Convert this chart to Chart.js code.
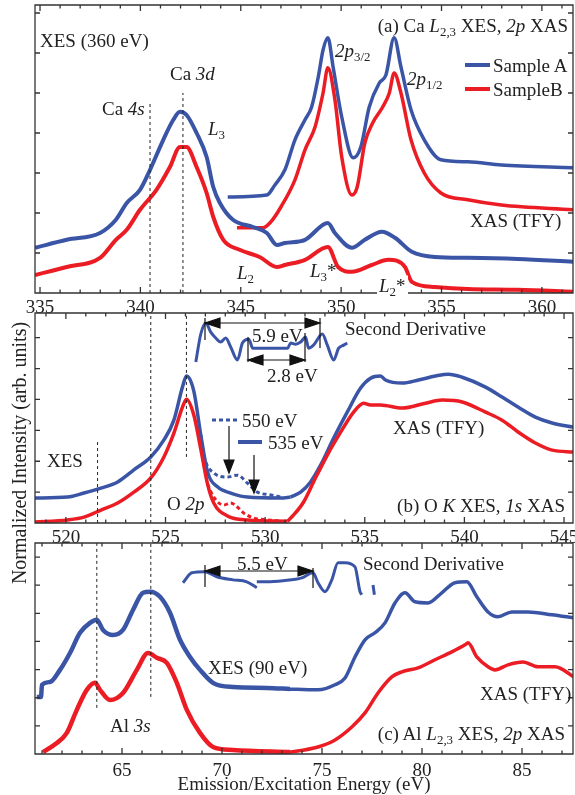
<!DOCTYPE html>
<html>
<head>
<meta charset="utf-8">
<script src="https://cdn.jsdelivr.net/npm/chart.js@4.4.1/dist/chart.umd.min.js"></script>
<style>
  body { margin: 0; width: 575px; height: 795px; position: relative; overflow: hidden; background: #fff;
         font-family: "Liberation Serif", "Times New Roman", serif; color: #222; }
  .panel { position: absolute; left: 0; width: 575px; }
  .t { position: absolute; font-size: 19px; line-height: 1; white-space: nowrap; transform: translateY(-50%); }
  .t sub { font-size: 0.68em; vertical-align: -0.35em; line-height: 0; }
  svg { position: absolute; left: 0; top: 0; }
</style>
</head>
<body>
<div class="panel" style="top:0;height:318px"><canvas id="chartA"></canvas></div>
<div class="panel" style="top:308px;height:240px"><canvas id="chartB"></canvas></div>
<div class="panel" style="top:538px;height:257px"><canvas id="chartC"></canvas></div>

<svg width="575" height="795">
  <g stroke="#3b55a6" stroke-width="4">
    <line x1="465" y1="65" x2="490" y2="65"/>
    <line x1="238" y1="442" x2="262" y2="442"/>
    <line x1="212" y1="420" x2="237" y2="420" stroke-width="3" stroke-dasharray="4 3"/>
  </g>
  <line x1="465" y1="89" x2="490" y2="89" stroke="#ec1c24" stroke-width="4"/>
  <g stroke="#111" stroke-width="1.2" fill="#111">
    <!-- (b) arrows -->
    <line x1="229" y1="426" x2="229" y2="462"/><polygon points="224,460 234,460 229,473"/>
    <line x1="254" y1="455" x2="254" y2="482"/><polygon points="249,480 259,480 254,493"/>
    <line x1="205" y1="323" x2="320" y2="323"/>
    <polygon points="205,323 220,318 220,328"/><polygon points="320,323 305,318 305,328"/>
    <line x1="205" y1="318" x2="205" y2="340"/><line x1="320" y1="318" x2="320" y2="348"/>
    <line x1="248" y1="360" x2="305" y2="360"/>
    <polygon points="248,360 263,355 263,365"/><polygon points="305,360 290,355 290,365"/>
    <line x1="248" y1="337" x2="248" y2="362"/><line x1="305" y1="333" x2="305" y2="362"/>
    <!-- (c) arrow -->
    <line x1="205" y1="571" x2="313" y2="571"/>
    <polygon points="205,571 220,566 220,576"/><polygon points="313,571 298,566 298,576"/>
    <line x1="205" y1="565" x2="205" y2="587"/><line x1="313" y1="568" x2="313" y2="588"/>
  </g>
</svg>

<!-- panel (a) texts -->
<div class="t" style="left:40px;top:40px">XES (360 eV)</div>
<div class="t" style="left:170px;top:73px">Ca <i>3d</i></div>
<div class="t" style="left:102px;top:108px">Ca <i>4s</i></div>
<div class="t" style="left:208px;top:128px"><i>L</i><sub>3</sub></div>
<div class="t" style="left:237px;top:272px"><i>L</i><sub>2</sub></div>
<div class="t" style="right:7px;top:25px">(a) Ca <i>L</i><sub>2,3</sub> XES, <i>2p</i> XAS</div>
<div class="t" style="left:335px;top:50px"><i>2p</i><sub>3/2</sub></div>
<div class="t" style="left:407px;top:78px"><i>2p</i><sub>1/2</sub></div>
<div class="t" style="left:493px;top:65px">Sample A</div>
<div class="t" style="left:493px;top:89px">SampleB</div>
<div class="t" style="left:470px;top:220px">XAS (TFY)</div>
<div class="t" style="left:310px;top:270px"><i>L</i><sub>3</sub>*</div>
<div class="t" style="left:377px;top:285px;background:#fff;padding:0 2px"><i>L</i><sub>2</sub>*</div>

<!-- panel (b) texts -->
<div class="t" style="left:345px;top:328px">Second Derivative</div>
<div class="t" style="left:252px;top:335px">5.9 eV</div>
<div class="t" style="left:267px;top:375px">2.8 eV</div>
<div class="t" style="left:242px;top:420px">550 eV</div>
<div class="t" style="left:268px;top:442px">535 eV</div>
<div class="t" style="left:47px;top:460px">XES</div>
<div class="t" style="left:167px;top:503px">O <i>2p</i></div>
<div class="t" style="left:393px;top:427px">XAS (TFY)</div>
<div class="t" style="right:10px;top:505px">(b) O <i>K</i> XES, <i>1s</i> XAS</div>

<!-- panel (c) texts -->
<div class="t" style="left:237px;top:563px">5.5 eV</div>
<div class="t" style="left:363px;top:563px">Second Derivative</div>
<div class="t" style="left:208px;top:667px">XES (90 eV)</div>
<div class="t" style="left:110px;top:725px">Al <i>3s</i></div>
<div class="t" style="left:480px;top:693px">XAS (TFY)</div>
<div class="t" style="right:10px;top:733px">(c) Al <i>L</i><sub>2,3</sub> XES, <i>2p</i> XAS</div>

<div class="t" style="left:19px;top:453px;font-size:20px;transform:translate(-50%,-50%) rotate(-90deg)">Normalized Intensity (arb. units)</div>

<script>
const BLUE = "#3b55a6";
const RED = "#ec1c24";
const FONT = "'Liberation Serif', 'Times New Roman', serif";

// tick labels
const caTicks = [335, 340, 345, 350, 355, 360];
const oTicks = [520, 525, 530, 535, 540, 545];
const alTicks = [65, 70, 75, 80, 85];

// (a) Ca L2,3 XES / 2p XAS  [energy eV, intensity arb.]
const caXesA = [[334.75,1.13],[336.33,1.33],[337.99,1.5],[338.78,1.83],[339.32,2.25],[339.98,2.58],[340.48,3.08],
  [341.14,3.83],[341.64,4.33],[341.97,4.53],[342.3,4.45],[342.8,4.0],[343.3,3.4],[343.63,2.65],[343.96,2.25],
  [344.61,1.83],[345.61,1.65],[346.3,1.5],[346.8,1.2],[347.2,1.25],[348.2,1.33],[349.34,1.75],[349.69,1.5],
  [350.54,1.13],[351.18,1.33],[352.03,1.53],[352.68,1.38],[353.52,1.03],[354.67,0.9],[356.31,0.88],[358.8,0.85],[361.6,0.78]];
const caXesB = [[334.75,0.45],[336.33,0.65],[337.99,0.88],[338.78,1.33],[339.32,1.58],[339.98,2.08],[340.8,2.58],
  [341.47,3.15],[341.97,3.65],[342.3,3.65],[342.8,3.15],[343.3,2.5],[343.63,1.9],[344.13,1.33],[344.94,1.08],
  [345.94,0.9],[346.8,0.65],[347.2,0.7],[348.2,0.83],[349.34,1.15],[349.85,0.65],[350.54,0.53],[351.52,0.7],
  [352.35,0.83],[353.18,0.65],[353.52,0.28],[354.67,0.15],[356.31,0.1],[358.8,0.08],[361.6,0.03]];
const caXasA = [[344.35,2.4],[346.3,2.45],[346.7,2.7],[347.2,3.08],[347.7,3.83],[348.2,4.33],[348.53,4.65],
  [348.86,5.4],[349.1,6.08],[349.34,6.38],[349.6,5.65],[350.03,4.4],[350.6,3.38],[350.98,3.65],[351.4,4.65],
  [351.9,5.25],[352.23,5.45],[352.64,6.38],[352.98,5.65],[353.48,4.58],[354.14,3.83],[354.97,3.33],[356.31,3.28],
  [357.98,3.2],[361.6,3.13]];
const caXasB = [[344.81,1.63],[346.1,1.63],[346.5,1.78],[347.0,2.15],[347.7,2.83],[348.2,3.58],[348.7,4.15],
  [349.1,5.0],[349.34,5.63],[349.69,4.83],[350.03,3.4],[350.54,2.45],[350.8,2.65],[351.18,3.75],[351.57,4.25],
  [352.07,4.65],[352.4,5.0],[352.64,5.5],[352.98,5.0],[353.48,3.83],[354.14,3.0],[354.97,2.5],[356.31,2.33],
  [357.98,2.2],[361.6,2.08]];
const caMarks = [[340.48,4.75],[342.12,5.0]];

// (b) O K XES / 1s XAS
const oXesA = [[518.4,0.81],[520.09,0.84],[520.91,0.97],[521.76,1.13],[522.6,1.33],[523.41,1.72],[524.26,2.14],
  [524.92,2.69],[525.42,3.33],[525.85,4.4],[526.05,4.76],[526.42,4.27],[526.77,2.85],[527.11,1.65],[527.61,1.17],
  [528.27,0.97],[529.11,0.84],[530.78,0.81],[531.28,0.84]];
const oXesA550 = [[526.77,2.85],[526.92,2.2],[527.42,1.62],[528.11,1.49],[528.61,1.55],[529.11,1.29],[529.61,1.0],
  [530.28,0.91],[530.78,0.84]];
const oXasA = [[531.28,0.84],[531.78,1.0],[532.28,1.33],[532.79,1.88],[533.44,2.75],[534.12,3.59],[534.79,4.37],
  [535.29,4.69],[535.79,4.76],[536.04,4.63],[536.88,4.53],[537.7,4.63],[538.55,4.76],[539.2,4.82],[539.89,4.72],
  [541.06,4.4],[541.89,4.08],[542.71,3.75],[543.56,3.43],[544.4,3.24],[545.5,3.1]];
const oXesB = [[518.4,0.03],[520.09,0.1],[520.91,0.19],[521.76,0.42],[522.6,0.65],[523.41,1.0],[524.26,1.46],
  [524.92,2.14],[525.42,2.91],[525.85,3.75],[526.05,4.01],[526.42,3.5],[526.77,2.39],[527.11,1.26],[527.42,0.65],
  [528.11,0.23],[529.11,0.1],[531.12,0.06]];
const oXesB550 = [[527.11,1.26],[527.42,0.84],[527.92,0.58],[528.27,0.65],[528.6,0.52],[528.93,0.32],[529.43,0.16],
  [530.11,0.1],[530.78,0.06]];
const oXasB = [[531.12,0.06],[531.43,0.26],[531.93,0.68],[532.43,1.33],[533.12,2.2],[533.79,2.94],[534.44,3.59],
  [534.94,3.88],[535.29,3.82],[535.79,3.82],[536.88,3.72],[538.05,3.88],[538.89,3.98],[539.89,3.92],[541.06,3.59],
  [541.89,3.33],[542.71,2.94],[543.56,2.59],[544.4,2.36],[545.5,2.3]];
const oDeriv = [[526.52,5.21],[526.77,6.12],[527.02,6.47],[527.27,6.18],[527.52,5.99],[527.77,5.86],[528.02,5.99],
  [528.27,5.7],[528.61,5.28],[528.86,5.83],[529.18,5.95],[529.38,5.66],[529.63,5.66],[530.28,5.66],[531.13,5.66],
  [531.28,5.83],[531.53,5.79],[531.78,5.86],[532.03,6.02],[532.18,5.66],[532.43,5.76],[532.87,6.12],[533.12,5.76],
  [533.44,5.28],[533.69,5.66],[533.94,5.76],[534.12,5.83]];
const oMarks = [[521.59,0,2.69],[524.26,0,6.8],[526.05,2.14,6.8]];

// (c) Al L2,3 XES / 2p XAS
const alXesA = [[60.74,2.03],[60.95,2.03],[61.0,2.46],[61.4,2.56],[61.9,2.99],[62.4,3.59],[62.9,4.31],[63.4,4.66],
  [63.74,4.77],[64.05,4.41],[64.55,4.23],[65.05,4.41],[65.55,5.12],[66.05,5.73],[66.4,5.77],[66.9,5.59],[67.4,5.02],
  [67.9,4.06],[68.4,3.45],[68.9,2.99],[69.55,2.53],[70.55,2.38],[72.25,2.35],[73.4,2.31]];
const alXasA = [[73.15,2.31],[74.8,2.28],[75.65,2.46],[76.15,2.7],[76.65,3.45],[77.15,4.06],[77.65,4.31],[78.15,4.66],
  [78.65,5.37],[79.15,5.73],[79.65,5.41],[80.3,5.37],[80.99,5.73],[81.65,6.09],[82.24,6.12],[82.74,5.59],[83.3,5.05],
  [83.8,4.88],[84.49,5.05],[85.3,5.05],[86.49,4.95],[87.6,4.84]];
const alXesB = [[61.05,0.07],[61.74,0.39],[62.24,0.75],[62.74,1.57],[63.24,2.28],[63.65,2.53],[63.9,2.28],[64.4,1.92],
  [65.05,2.17],[65.74,2.99],[66.3,3.59],[66.74,3.42],[67.24,3.24],[67.74,2.53],[68.24,1.57],[68.9,0.75],[69.55,0.25],
  [70.55,0.14],[73.4,0.07]];
const alXasB = [[73.15,0.04],[74.8,0.25],[75.65,0.5],[76.49,0.96],[77.15,1.46],[77.8,2.17],[78.49,2.74],[78.99,2.92],
  [79.8,3.06],[80.65,3.35],[81.49,3.63],[82.15,3.88],[82.3,3.95],[82.74,3.45],[83.3,3.1],[83.65,2.99],[84.3,3.17],
  [85.05,3.27],[85.8,3.1],[86.65,3.1],[87.6,2.74]];
const alDeriv1 = [[68.05,6.09],[68.49,6.44],[69.15,6.48],[69.74,6.3],[70.55,6.19],[71.24,6.12],[71.74,5.91]];
const alDeriv2 = [[71.74,6.12],[72.24,6.12],[73.05,6.16],[73.99,6.26],[74.55,6.44],[74.8,6.09],[75.15,5.77],
  [75.49,6.19],[75.8,6.8],[76.15,6.8],[76.65,6.65],[76.9,5.77],[76.99,5.66]];
const alDeriv3 = [[77.55,6.01],[77.62,5.66]];
const alMarks = [[63.74,1.64,7.5],[66.44,2.03,7.5]];

function curve(points, color, width, dash) {
  return {
    data: points.map(([x, y]) => ({ x, y })),
    borderColor: color,
    borderWidth: width,
    borderDash: dash || [],
    showLine: true,
    pointRadius: 0,
    cubicInterpolationMode: "monotone",
  };
}

function marker(x, y0, y1) {
  return {
    data: [{ x, y: y0 }, { x, y: y1 }],
    borderColor: "#222",
    borderWidth: 1,
    borderDash: [3, 3],
    showLine: true,
    pointRadius: 0,
  };
}

// frame with inward ticks on all four sides
const frame = {
  id: "frame",
  afterDatasetsDraw(chart) {
    const { ctx, chartArea: a } = chart;
    const x = chart.scales.x, y = chart.scales.y;
    const seg = (x1, y1, x2, y2) => { ctx.moveTo(x1, y1); ctx.lineTo(x2, y2); };
    ctx.save();
    ctx.strokeStyle = "#333";
    ctx.lineWidth = 1.3;
    ctx.beginPath();
    ctx.rect(a.left, a.top, a.right - a.left, a.bottom - a.top);
    for (let v = Math.ceil(x.min); v <= x.max; v++) {
      const px = x.getPixelForValue(v);
      const len = v % 5 === 0 ? 6 : 3.5;
      seg(px, a.bottom, px, a.bottom - len);
      seg(px, a.top, px, a.top + len);
    }
    for (let v = 1; v < y.max; v++) {
      const py = y.getPixelForValue(v);
      seg(a.left, py, a.left + 5, py);
      seg(a.right, py, a.right - 5, py);
    }
    ctx.stroke();
    ctx.restore();
  },
};

function makePanel(id, xMin, xMax, yMax, tickValues, datasets, axis) {
  const xTitle = axis.title
    ? { display: true, text: axis.title, color: "#222", font: { family: FONT, size: 19, lineHeight: 1.1 }, padding: 0 }
    : { display: false };
  return new Chart(document.getElementById(id), {
    type: "scatter",
    data: { datasets },
    options: {
      responsive: true,
      maintainAspectRatio: false,
      animation: false,
      layout: { padding: { left: 35, right: 2, top: 5, bottom: 0 } },
      plugins: { legend: { display: false }, tooltip: { enabled: false } },
      scales: {
        x: {
          type: "linear",
          min: xMin,
          max: xMax,
          grid: { display: false, drawTicks: false },
          border: { display: false },
          title: xTitle,
          ticks: {
            autoSkip: false,
            maxRotation: 0,
            padding: axis.pad,
            color: "#222",
            font: { family: FONT, size: 19 },
          },
          afterBuildTicks: (s) => {
            s.ticks = tickValues.map((v) => ({ value: v }));
          },
          afterFit: (s) => {
            s.height = axis.height;
            s.paddingLeft = 0;
            s.paddingRight = 0;
          },
        },
        y: { display: false, min: 0, max: yMax },
      },
    },
    plugins: [frame],
  });
}

makePanel("chartA", 334.75, 361.55, 7.2, caTicks, [
  ...caMarks.map(([x, top]) => marker(x, 0, top)),
  curve(caXesB, RED, 4),
  curve(caXesA, BLUE, 4),
  curve(caXasB, RED, 3.5),
  curve(caXasA, BLUE, 3.5),
], { pad: 4, height: 25 });

makePanel("chartB", 518.45, 545.45, 6.8, oTicks, [
  ...oMarks.map(([x, y0, y1]) => marker(x, y0, y1)),
  curve(oXesB550, RED, 3, [4, 3]),
  curve(oXesB, RED, 3.5),
  curve(oXasB, RED, 3.5),
  curve(oXesA550, BLUE, 3, [4, 3]),
  curve(oXesA, BLUE, 3.5),
  curve(oXasA, BLUE, 3.5),
  curve(oDeriv, BLUE, 3),
], { pad: 4, height: 25 });

makePanel("chartC", 60.65, 87.55, 7.5, alTicks, [
  ...alMarks.map(([x, y0, y1]) => marker(x, y0, y1)),
  curve(alXesB, RED, 4.5),
  curve(alXasB, RED, 3.5),
  curve(alXesA, BLUE, 4.5),
  curve(alXasA, BLUE, 3.5),
  curve(alDeriv1, BLUE, 3),
  curve(alDeriv2, BLUE, 3),
  curve(alDeriv3, BLUE, 3),
], { pad: 6, height: 41, title: "Emission/Excitation Energy (eV)" });
</script>
</body>
</html>
